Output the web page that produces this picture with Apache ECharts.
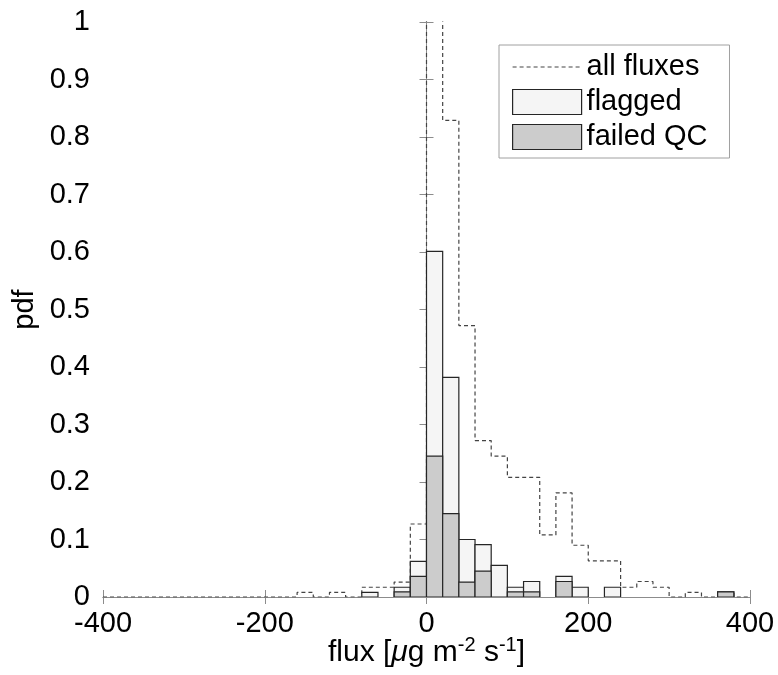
<!DOCTYPE html>
<html>
<head>
<meta charset="utf-8">
<script src="https://cdn.jsdelivr.net/npm/echarts@6/dist/echarts.min.js"></script>
<style>html,body{margin:0;padding:0;background:#fff}#c{width:778px;height:675px}</style>
</head>
<body>
<div id="c"></div>
<script>
// Histogram bins: left edge of first bin and bin width (flux units)
const binStart = -400;
const binWidth = 20;
// pdf of all fluxes, one value per bin from -400 to 400 (40 bins)
const allFluxes = [
  0, 0, 0, 0, 0, 0, 0, 0, 0, 0, 0, 0,
  0.008, 0, 0.008, 0, 0.017, 0.017, 0.026, 0.127,
  1.3, 0.829, 0.472, 0.272, 0.245, 0.208, 0.208, 0.108, 0.181, 0.090,
  0.063, 0.063, 0.017, 0.027, 0.017, 0, 0.008, 0, 0.008, 0
];
// flagged pdf, same bins
const flagged = [
  0, 0, 0, 0, 0, 0, 0, 0, 0, 0, 0, 0,
  0, 0, 0, 0, 0.008, 0, 0.017, 0.062,
  0.601, 0.382, 0.100, 0.091, 0.055, 0.017, 0.027, 0, 0.036, 0.017,
  0, 0.017, 0, 0, 0, 0, 0, 0, 0.009, 0
];
// failed QC pdf, same bins
const failedQC = [
  0, 0, 0, 0, 0, 0, 0, 0, 0, 0, 0, 0,
  0, 0, 0, 0, 0, 0, 0.009, 0.036,
  0.245, 0.145, 0.026, 0.045, 0, 0.009, 0.009, 0, 0.027, 0,
  0, 0, 0, 0, 0, 0, 0, 0, 0.009, 0
];
const seriesNames = ['all fluxes', 'flagged', 'failed QC'];
const xTicks = [-400, -200, 0, 200, 400];

const FONT = 'Liberation Sans, Arial, Helvetica, sans-serif';
const AXIS_COLOR = '#8c8c8c';
const DASH_COLOR = '#444444';

function barsData(vals) {
  const out = [];
  vals.forEach((v, i) => {
    if (v > 0) out.push([binStart + i * binWidth, binStart + (i + 1) * binWidth, v]);
  });
  return out;
}
function stairsData(vals) {
  const out = vals.map((v, i) => [binStart + i * binWidth, v]);
  out.push([binStart + vals.length * binWidth, vals[vals.length - 1]]);
  return out;
}
function rectRenderer(fill) {
  return function (params, api) {
    const p0 = api.coord([api.value(0), 0]);
    const p1 = api.coord([api.value(1), api.value(2)]);
    return {
      type: 'rect',
      shape: { x: p0[0], y: p1[1], width: p1[0] - p0[0], height: p0[1] - p1[1] },
      style: { fill: fill, stroke: '#262626', lineWidth: 1.2 }
    };
  };
}

const chart = echarts.init(document.getElementById('c'), null, { renderer: 'canvas' });
const axisCommon = {
  axisLine: { show: true, lineStyle: { color: AXIS_COLOR, width: 1 } },
  axisTick: { show: true, inside: true, length: 7, lineStyle: { color: AXIS_COLOR } },
  splitLine: { show: false }
};
chart.setOption({
  animation: false,
  backgroundColor: '#ffffff',
  textStyle: { fontFamily: FONT },
  grid: { left: 103, right: 28, top: 22, bottom: 78, containLabel: false, outerBoundsMode: 'none' },
  legend: {
    orient: 'vertical',
    left: 499, top: 45,
    padding: [7, 22, 6, 13],
    itemWidth: 69, itemHeight: 25, itemGap: 5,
    backgroundColor: '#ffffff',
    borderColor: '#a0a0a0', borderWidth: 1, borderRadius: 0,
    textStyle: { fontSize: 29, color: '#000', fontFamily: FONT, lineHeight: 30 },
    data: [
      { name: seriesNames[0], itemStyle: { opacity: 0 },
        lineStyle: { color: DASH_COLOR, width: 1.2, type: [4, 3] } },
      { name: seriesNames[1], icon: 'rect', itemStyle: { color: '#f5f5f5', borderColor: '#262626', borderWidth: 1.2 } },
      { name: seriesNames[2], icon: 'rect', itemStyle: { color: '#cccccc', borderColor: '#262626', borderWidth: 1.2 } }
    ]
  },
  xAxis: [
    Object.assign({
      type: 'value', min: xTicks[0], max: xTicks[xTicks.length - 1], interval: 200,
      position: 'bottom',
      axisLabel: { fontSize: 29, color: '#000', margin: 12, fontFamily: FONT },
      name: '{t|flux [}{mu|μ}{t|g m}{sup|-2}{t| s}{sup|-1}{t|]}',
      nameLocation: 'middle', nameGap: 38, nameMoveOverlap: false,
      nameTextStyle: {
        rich: {
          t: { fontSize: 30, color: '#000', fontFamily: FONT, lineHeight: 36 },
          mu: { fontSize: 30, color: '#000', fontFamily: FONT, fontStyle: 'italic', lineHeight: 36 },
          sup: { fontSize: 20, color: '#000', fontFamily: FONT, verticalAlign: 'top', lineHeight: 22 }
        }
      }
    }, axisCommon),
    Object.assign({
      type: 'value', min: xTicks[0], max: xTicks[xTicks.length - 1], interval: 200,
      position: 'top', axisLabel: { show: false }
    }, axisCommon)
  ],
  yAxis: [
    Object.assign({
      type: 'value', min: 0, max: 1, interval: 0.1,
      axisLabel: { fontSize: 29, color: '#000', margin: 13, fontFamily: FONT },
      name: 'pdf', nameLocation: 'middle', nameGap: 64, nameMoveOverlap: false,
      nameTextStyle: { fontSize: 29, color: '#000', fontFamily: FONT }
    }, axisCommon),
    Object.assign({
      type: 'value', min: 0, max: 1, interval: 0.1,
      position: 'right', axisLabel: { show: false }
    }, axisCommon)
  ],
  series: [
    {
      name: seriesNames[0], type: 'line', step: 'end', symbol: 'none', clip: true,
      data: stairsData(allFluxes),
      lineStyle: { color: DASH_COLOR, width: 1.2, type: [4, 3] },
      itemStyle: { color: DASH_COLOR },
      z: 2
    },
    {
      name: seriesNames[1], type: 'custom', clip: true,
      renderItem: rectRenderer('#f5f5f5'),
      encode: { x: [0, 1], y: 2 },
      data: barsData(flagged),
      itemStyle: { color: '#f5f5f5', borderColor: '#262626' },
      z: 3
    },
    {
      name: seriesNames[2], type: 'custom', clip: true,
      renderItem: rectRenderer('#cccccc'),
      encode: { x: [0, 1], y: 2 },
      data: barsData(failedQC),
      itemStyle: { color: '#cccccc', borderColor: '#262626' },
      z: 4
    }
  ]
});
</script>
</body>
</html>
